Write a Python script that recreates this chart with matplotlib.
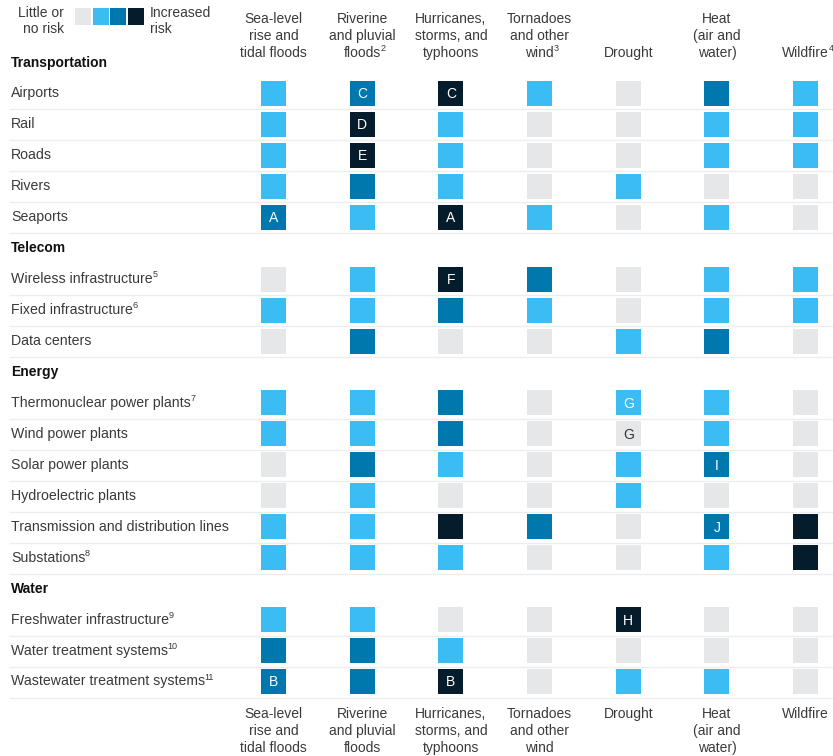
import matplotlib.pyplot as plt
from matplotlib.patches import Rectangle

plt.rcParams['font.family'] = ['Liberation Sans', 'DejaVu Sans']

# hazard columns: each header is a list of lines, footnote marks kept apart
hazards_top = [['Sea-level', 'rise and', 'tidal floods'], ['Riverine', 'and pluvial', 'floods'],
               ['Hurricanes,', 'storms, and', 'typhoons'], ['Tornadoes', 'and other', 'wind'],
               ['Drought'], ['Heat', '(air and', 'water)'], ['Wildfire']]
hazard_notes = ['', '2', '', '3', '', '', '4']
hazards_bottom = [['Sea-level', 'rise and', 'tidal floods'], ['Riverine', 'and pluvial', 'floods'],
                  ['Hurricanes,', 'storms, and', 'typhoons'], ['Tornadoes', 'and other', 'wind'],
                  ['Drought'], ['Heat', '(air and', 'water)'], ['Wildfire']]

# sector headers and their asset rows
sectors = ['Transportation', 'Telecom', 'Energy', 'Water']
assets = [
    ['Airports', 'Rail', 'Roads', 'Rivers', 'Seaports'],
    ['Wireless infrastructure', 'Fixed infrastructure', 'Data centers'],
    ['Thermonuclear power plants', 'Wind power plants', 'Solar power plants',
     'Hydroelectric plants', 'Transmission and distribution lines', 'Substations'],
    ['Freshwater infrastructure', 'Water treatment systems', 'Wastewater treatment systems'],
]
asset_notes = {'Wireless infrastructure': '5', 'Fixed infrastructure': '6',
               'Thermonuclear power plants': '7', 'Substations': '8',
               'Freshwater infrastructure': '9', 'Water treatment systems': '10',
               'Wastewater treatment systems': '11'}

# risk level 0 = little or no risk ... 3 = increased risk
risk = [
    [1, 2, 3, 1, 0, 2, 1],
    [1, 3, 1, 0, 0, 1, 1],
    [1, 3, 1, 0, 0, 1, 1],
    [1, 2, 1, 0, 1, 0, 0],
    [2, 1, 3, 1, 0, 1, 0],
    [0, 1, 3, 2, 0, 1, 1],
    [1, 1, 2, 1, 0, 1, 1],
    [0, 2, 0, 0, 1, 2, 0],
    [1, 1, 2, 0, 1, 1, 0],
    [1, 1, 2, 0, 0, 1, 0],
    [0, 2, 1, 0, 1, 2, 0],
    [0, 1, 0, 0, 1, 0, 0],
    [1, 1, 3, 2, 0, 2, 3],
    [1, 1, 1, 0, 0, 1, 3],
    [1, 1, 0, 0, 3, 0, 0],
    [2, 2, 1, 0, 0, 0, 0],
    [2, 2, 3, 0, 1, 1, 0],
]

# case-study letters: (row, column, letter)
letters = [(0, 1, 'C'), (0, 2, 'C'), (1, 1, 'D'), (2, 1, 'E'), (4, 0, 'A'), (4, 2, 'A'),
           (5, 2, 'F'), (8, 4, 'G'), (9, 4, 'G'), (10, 5, 'I'), (12, 5, 'J'),
           (14, 4, 'H'), (16, 0, 'B'), (16, 2, 'B')]

colors = ['#E6E7E9', '#3BBDF3', '#0078AE', '#051C2C']
text_col = '#3a3a3a'

fig = plt.figure(figsize=(8.33, 7.56), dpi=100)
ax = fig.add_axes([0, 0, 1, 1])
ax.set_xlim(0, 833)
ax.set_ylim(756, 0)
ax.axis('off')
renderer = fig.canvas.get_renderer()


def note(t, mark, y):
    # small raised footnote number right after a text
    if not mark:
        return
    bb = t.get_window_extent(renderer)
    ax.text(bb.x1 - 0.3, y - 4.5, mark, ha='left', va='center', fontsize=6.5,
            color=text_col)


col_x0, col_dx = 273.5, 88.7
slot_y0, slot_dy = 62.5, 30.95
line_dy = 17.0
sq = 25

# legend
ax.text(64, 21, 'Little or\nno risk', ha='right', va='center', fontsize=10,
        color=text_col, linespacing=1.2)
for i, c in enumerate(colors):
    ax.add_patch(Rectangle((75 + i * 17.6, 8), 16, 17, color=c, lw=0))
ax.text(150, 21, 'Increased\nrisk', ha='left', va='center', fontsize=10,
        color=text_col, linespacing=1.2)

# column headers, top and bottom
for j in range(len(hazards_top)):
    x = col_x0 + j * col_dx
    lines = hazards_top[j]
    for k, line in enumerate(lines):
        y = 53 - (len(lines) - 1 - k) * line_dy
        t = ax.text(x, y, line, ha='center', va='center', fontsize=10, color=text_col)
        if k == len(lines) - 1:
            note(t, hazard_notes[j], y)
    for k, line in enumerate(hazards_bottom[j]):
        ax.text(x, 714 + k * line_dy, line, ha='center', va='center', fontsize=10,
                color=text_col)

slot = 0
r = 0
for s, sector in enumerate(sectors):
    ax.text(11, slot_y0 + slot * slot_dy, sector, ha='left', va='center',
            fontsize=10, fontweight='bold', color='#111111')
    slot += 1
    for name in assets[s]:
        y = slot_y0 + slot * slot_dy
        t = ax.text(11, y, name, ha='left', va='center', fontsize=10.2, color=text_col)
        note(t, asset_notes.get(name, ''), y)
        ax.plot([10, 833], [y + 16, y + 16], color='#EDEDED', lw=1, zorder=0)
        for j, level in enumerate(risk[r]):
            x = col_x0 + j * col_dx
            ax.add_patch(Rectangle((x - sq / 2, y - sq / 2), sq, sq,
                                   color=colors[level], lw=0))
        for (ri, cj, letter) in letters:
            if ri == r:
                x = col_x0 + cj * col_dx
                fc = '#333333' if risk[r][cj] == 0 else 'white'
                ax.text(x, y + 1, letter, ha='center', va='center',
                        fontsize=10, color=fc)
        slot += 1
        r += 1

fig.savefig('out.png', dpi=100)
